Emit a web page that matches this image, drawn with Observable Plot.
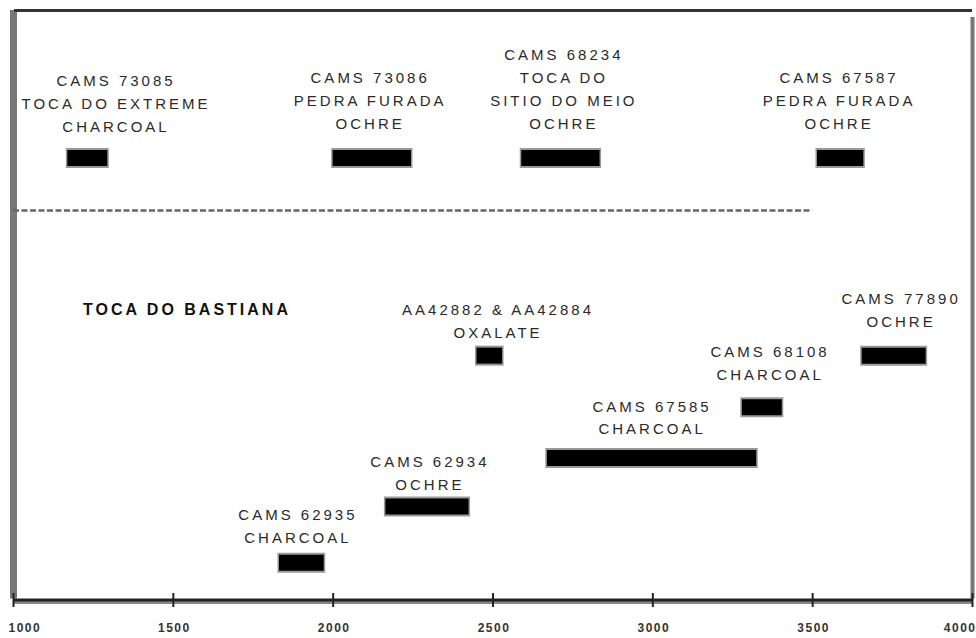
<!DOCTYPE html>
<html>
<head>
<meta charset="utf-8">
<script src="https://cdn.jsdelivr.net/npm/d3@7"></script>
<script src="https://cdn.jsdelivr.net/npm/@observablehq/plot@0.6"></script>
<style>
  html, body { margin: 0; padding: 0; background: #fff; }
  #chart { width: 976px; height: 638px; }
  svg g[font-size="15"] text { letter-spacing: 3px; }
  svg g[font-size="16"] text { letter-spacing: 3px; }
  svg g[font-size="12"] text { letter-spacing: 1.5px; }
</style>
</head>
<body>
<div id="chart"></div>
<script>
// ---- data (years BP) ----
const sampleIds = ["CAMS 73085", "CAMS 73086", "CAMS 68234", "CAMS 67587",
  "AA42882 & AA42884", "CAMS 77890", "CAMS 68108", "CAMS 67585", "CAMS 62934", "CAMS 62935"];
const sites = ["TOCA DO EXTREME", "PEDRA FURADA", "TOCA DO\nSITIO DO MEIO", "PEDRA FURADA",
  "", "", "", "", "", ""];
const materials = ["CHARCOAL", "OCHRE", "OCHRE", "OCHRE",
  "OXALATE", "OCHRE", "CHARCOAL", "CHARCOAL", "OCHRE", "CHARCOAL"];
const ageStart = [1170, 2000, 2590, 3515, 2450, 3655, 3280, 2670, 2165, 1832];
const ageEnd   = [1295, 2245, 2835, 3660, 2530, 3855, 3405, 3325, 2425, 1972];
// vertical lane of each bar (arbitrary layout units)
const lane = [9, 9, 9, 9, 4.98, 4.98, 3.93, 2.9, 1.91, 0.77];
// label anchors in data units
const labelYear = [1316, 2111, 2717, 3578, 2511, 3772, 3362, 2993, 2298, 1885];
const labelLane = [10.15, 10.21, 10.44, 10.2, 5.72, 5.94, 4.86, 3.76, 2.64, 1.55];

const groupTitle = "TOCA DO BASTIANA";
const groupTitleYear = 1538;
const groupTitleLane = 5.92;
const separatorLane = 7.93;
const separatorEnd = 3500;

const xTicks = [1000, 1500, 2000, 2500, 3000, 3500, 4000];
const xDomain = [1000, 4000];
const yDomain = [0, 12];

// ---- build table ----
const samples = sampleIds.map((id, i) => ({
  id, site: sites[i], material: materials[i],
  start: ageStart[i], end: ageEnd[i], lane: lane[i],
  lx: labelYear[i], ly: labelLane[i],
  label: [id, sites[i], materials[i]].filter(s => s).join("\n")
}));

const font = "'Liberation Sans', Arial, sans-serif";

const chart = Plot.plot({
  width: 976,
  height: 638,
  marginLeft: 13,
  marginRight: 4,
  marginTop: 10,
  marginBottom: 38,
  style: { fontFamily: font, background: "#fff", overflow: "visible" },
  x: { domain: xDomain, axis: null },
  y: { domain: yDomain, axis: null },
  marks: [
    // frame
    Plot.ruleX([xDomain[0]], { y1: yDomain[0], y2: yDomain[1], stroke: "#777", strokeWidth: 7, insetTop: -1.5 }),
    Plot.ruleX([xDomain[1]], { y1: yDomain[0], y2: yDomain[1], stroke: "#777", strokeWidth: 4, insetBottom: -7, insetTop: -1.5 }),
    Plot.ruleY([yDomain[1]], { x1: xDomain[0], x2: xDomain[1], stroke: "#333", strokeWidth: 3, insetLeft: 1 }),
    // separator
    Plot.ruleY([separatorLane], { x1: xDomain[0], x2: separatorEnd, stroke: "#666", strokeWidth: 2.5, strokeDasharray: "6,2.5" }),
    // axis line + ticks
    Plot.ruleY([yDomain[0]], { x1: xDomain[0], x2: xDomain[1], stroke: "#888", strokeWidth: 5, dy: 1 }),
    Plot.ruleY([yDomain[0]], { x1: xDomain[0], x2: xDomain[1], stroke: "#222", strokeWidth: 3, dy: -0.5 }),
    Plot.ruleX(xTicks, { x: d => d, y1: yDomain[0], y2: yDomain[0], insetTop: -7, insetBottom: -7, stroke: "#222", strokeWidth: 2 }),
    // tick labels
    Plot.text(xTicks.filter((d, i) => i > 0 && i < xTicks.length - 1), {
      x: d => d, frameAnchor: "bottom", dy: 31, dx: 1, text: d => String(d),
      fontSize: 12, fontWeight: "bold", fill: "#333"
    }),
    Plot.text([xTicks[0]], {
      x: d => d, frameAnchor: "bottom", dy: 31, text: d => String(d), textAnchor: "start", dx: -5,
      fontSize: 12, fontWeight: "bold", fill: "#333"
    }),
    Plot.text([xTicks[xTicks.length - 1]], {
      x: d => d, frameAnchor: "bottom", dy: 31, text: d => String(d), textAnchor: "end", dx: 4,
      fontSize: 12, fontWeight: "bold", fill: "#333"
    }),
    // bars (grey halo + black core)
    Plot.ruleY(samples, { x1: "start", x2: "end", y: "lane", stroke: "#999", strokeWidth: 20, insetLeft: -1.5, insetRight: -1.5 }),
    Plot.ruleY(samples, { x1: "start", x2: "end", y: "lane", stroke: "#000", strokeWidth: 16 }),
    // labels
    Plot.text(samples, {
      x: "lx", y: "ly", text: "label", lineAnchor: "middle", lineHeight: 1.53, dx: 1.5,
      fontSize: 15, fill: "#2a2a2a"
    }),
    Plot.text([groupTitle], {
      x: () => groupTitleYear, y: () => groupTitleLane, text: d => d, dx: 1.5,
      fontSize: 16, fontWeight: "bold", fill: "#111"
    })
  ]
});

document.getElementById("chart").appendChild(chart);
</script>
</body>
</html>
